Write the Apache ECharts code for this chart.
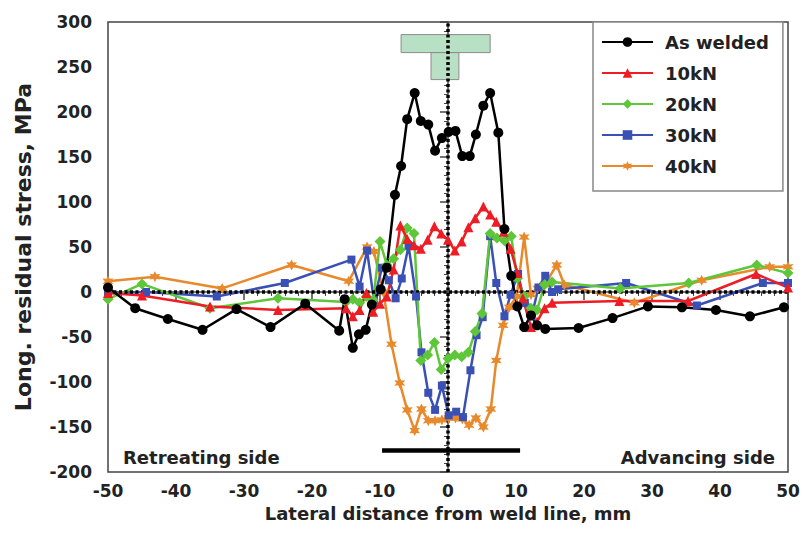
<!DOCTYPE html>
<html lang="en">
<head>
    <meta charset="UTF-8">
    <title>Longitudinal residual stress</title>
    <style>
        html, body { margin: 0; padding: 0; background: #fff; }
        #main { width: 805px; height: 556px; }
    </style>
    <script src="https://cdn.jsdelivr.net/npm/echarts@6/dist/echarts.min.js"></script>
</head>
<body>
<div id="main"></div>
<script>
    // measured points [lateral distance mm, stress MPa]
    var asWelded = [[-50,5],[-46,-18],[-41.2,-30],[-36.1,-42],[-31.1,-19],[-26.1,-39],[-21,-13],[-16,-43],[-15.2,-8],[-14,-62],
        [-13.1,-47],[-12.1,-42],[-11.2,-14],[-9.9,3],[-9,27],[-7.8,108],[-6.9,140],[-6,192],[-4.9,221],[-4,190],[-2.9,186],
        [-1.9,157],[-0.9,171],[0.1,178],[1.1,179],[2.1,151],[3.2,151],[4.1,175],[5.2,207],[6.2,221],[7.4,177],[8.3,70],
        [9.3,18],[10.2,-16],[11.2,-39],[12.2,-26],[13.1,-37],[14.3,-41],[19.2,-40],[24.2,-29],[29.4,-16],[34.4,-17],
        [39.4,-20],[44.4,-27],[49.4,-17]];
    var load10 = [[-50,-1],[-45,-4],[-35,-16],[-25,-20],[-15,-18],[-14,-27],[-13,-20],[-12,-1],[-11,-22],[-10,-13],[-9,-5],
        [-8,25],[-7,74],[-6,59],[-5,52],[-4,48],[-3,58],[-2,73],[-1,65],[0,58],[1,46],[2,56],[3,72],[4,82],[5.2,95],
        [6.2,86],[7.1,78],[8.2,67],[9.2,48],[10.2,21],[11,-7],[12.2,-39],[13.1,-33],[14.2,-18],[15.3,-12],[25.2,-10],
        [35.3,-10],[45.3,20],[50,5]];
    var load20 = [[-50,-8],[-45,9],[-35,-18],[-25,-7],[-15,-11],[-14,-8],[-13,-12],[-12,-5],[-11,-9],[-10,56],[-9,30],
        [-8,37],[-7,47],[-6,71],[-5,65],[-4,-76],[-3,-70],[-2,-56],[-1,-86],[0,-74],[1,-70],[2,-72],[3,-67],[4,-44],
        [5,-24],[6.2,65],[7.2,60],[8.3,57],[9.3,62],[10.2,15],[11.2,-5],[12.2,-18],[13.1,-20],[14.2,8],[15.3,11],
        [25.3,4],[35.4,10],[45.4,30],[50,21]];
    var load30 = [[-50,-1],[-44.4,0],[-34,-5],[-24,10],[-14.2,36],[-13,6],[-11.9,46],[-10.9,-9],[-9.7,27],[-8.7,13],
        [-7.7,-7],[-6.8,15],[-5.8,51],[-4.7,-5],[-3.9,-67],[-2.9,-112],[-1.9,-131],[-0.9,-104],[0.1,-137],[1.2,-133],
        [2.2,-139],[3.3,-87],[4.2,-48],[5.1,-28],[6.2,62],[7.1,10],[8.3,-27],[9.2,-3],[10.3,20],[11.3,-12],[12.3,-27],
        [13.3,5],[14.3,18],[15.3,0],[16.2,3],[26.2,10],[36.6,-15],[46.3,10],[50,10]];
    var load40 = [[-50,12],[-43.1,17],[-33.2,4],[-23,30],[-14.6,12],[-11.9,50],[-10.9,45],[-9.5,0],[-8.3,-58],[-7.1,-101],
        [-6,-131],[-4.9,-154],[-3.9,-130],[-2.9,-143],[-1.9,-143],[-0.9,-142],[0.1,-140],[1.1,-140],[2.1,-141],[3.1,-148],
        [4.1,-140],[5.2,-150],[6.3,-130],[7.1,-76],[8.1,-37],[9,-17],[10.1,-5],[11.2,61],[12.2,-3],[13.2,4],[14.2,8],
        [16,30],[17.1,8],[27.4,-12],[37.3,13],[47.3,28],[50,28]];

    var seriesNames = ['As welded', '10kN', '20kN', '30kN', '40kN'];

    // reference lines, tool sketch (shoulder + pin) and tool width bar, in data units
    var weldLine = [[0, -200], [0, 300]];
    var zeroLine = [[-50, 0], [50, 0]];
    var toolShoulder = [[-6.9, 286], [6.2, 266]];
    var toolPin = [[-2.5, 266], [1.6, 236]];
    var widthBar = [[-9.7, -176], [10.6, -176]];

    var starPath = 'path://M10 0 L12.5 5.67 L18.66 5 L15 10 L18.66 15 L12.5 14.33 L10 20 L7.5 14.33 L1.34 15 L5 10 L1.34 5 L7.5 5.67 Z';
    var font = 'DejaVu Sans';

    function mkSeries(name, data, color, symbol, size) {
        return {
            name: name,
            type: 'line',
            data: data,
            symbol: symbol,
            symbolSize: size,
            color: color,
            lineStyle: { width: 2.5, color: color },
            itemStyle: { color: color },
            emphasis: { disabled: true }
        };
    }

    function guide(data, width, type) {
        return {
            type: 'line',
            data: data,
            symbol: 'none',
            silent: true,
            lineStyle: { color: '#000', width: width, type: type },
            emphasis: { disabled: true }
        };
    }

    var s40 = mkSeries(seriesNames[4], load40, '#e8892b', starPath, 11);
    var s30 = mkSeries(seriesNames[3], load30, '#3a50b5', 'rect', 8);
    var s20 = mkSeries(seriesNames[2], load20, '#5ec639', 'diamond', 11);
    var s10 = mkSeries(seriesNames[1], load10, '#ee1c24', 'triangle', 10);
    var s0 = mkSeries(seriesNames[0], asWelded, '#000000', 'circle', 10);

    s40.markArea = {
        silent: true,
        itemStyle: { color: '#b8e0c4', borderColor: '#8a8a8a', borderWidth: 1, opacity: 1 },
        data: [
            [{ coord: toolShoulder[0] }, { coord: toolShoulder[1] }],
            [{ coord: toolPin[0] }, { coord: toolPin[1] }]
        ]
    };

    // svg renderer: dashed strokes did not show with the canvas one
    var chart = echarts.init(document.getElementById('main'), null, { renderer: 'svg' });
    chart.setOption({
        animation: false,
        backgroundColor: '#fff',
        grid: { left: 108, right: 17, top: 22, bottom: 84, show: true, borderColor: '#444', borderWidth: 1.5 },
        legend: {
            data: seriesNames,
            orient: 'vertical',
            left: 593,
            top: 22,
            itemWidth: 51,
            itemHeight: 12,
            itemGap: 13,
            padding: [11, 14, 16, 8],
            backgroundColor: '#fff',
            borderColor: '#888',
            borderWidth: 1.5,
            textStyle: { fontFamily: font, fontWeight: 'bold', fontSize: 18, color: '#222', padding: [0, 0, 0, 7] }
        },
        xAxis: {
            type: 'value',
            min: -50, max: 50, interval: 10,
            name: 'Lateral distance from weld line, mm',
            nameLocation: 'middle',
            nameGap: 32,
            nameTextStyle: { fontFamily: font, fontWeight: 'bold', fontSize: 18, color: '#222' },
            axisLine: { lineStyle: { color: '#444', width: 1.5 } },
            axisTick: { length: 8, lineStyle: { color: '#444', width: 1.5 } },
            minorTick: { show: true, splitNumber: 5, length: 4, lineStyle: { color: '#444' } },
            axisLabel: { fontFamily: font, fontWeight: 'bold', fontSize: 17, color: '#222', margin: 10 },
            splitLine: { show: false }
        },
        yAxis: {
            type: 'value',
            min: -200, max: 300, interval: 50,
            name: 'Long. residual stress, MPa',
            nameLocation: 'middle',
            nameGap: 74,
            nameRotate: 90,
            nameTextStyle: { fontFamily: font, fontWeight: 'bold', fontSize: 22, color: '#222' },
            axisLine: { lineStyle: { color: '#444', width: 1.5 } },
            axisTick: { length: 8, lineStyle: { color: '#444', width: 1.5 } },
            minorTick: { show: true, splitNumber: 5, length: 4, lineStyle: { color: '#444' } },
            axisLabel: { fontFamily: font, fontWeight: 'bold', fontSize: 17, color: '#222', margin: 16 },
            splitLine: { show: false }
        },
        graphic: [
            { type: 'text', left: 123, top: 448, style: { text: 'Retreating side', fontFamily: font, fontWeight: 'bold', fontSize: 18, fill: '#222' } },
            { type: 'text', right: 30, top: 448, style: { text: 'Advancing side', fontFamily: font, fontWeight: 'bold', fontSize: 18, fill: '#222' } }
        ],
        series: [
            guide(widthBar, 4.5, 'solid'),
            s40, s30, s20, s10, s0,
            guide(weldLine, 3.5, [3, 2.5]),
            guide(zeroLine, 3.5, [3, 2.5])
        ]
    });
</script>
</body>
</html>
